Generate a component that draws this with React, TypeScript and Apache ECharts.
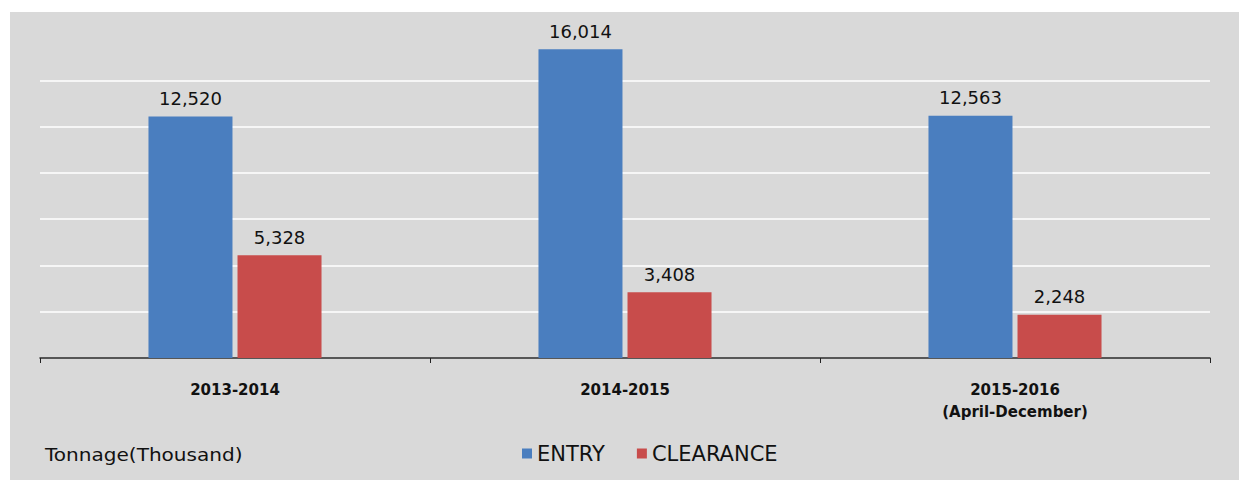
import React, { useEffect, useRef } from "react";
import * as echarts from "echarts";

const categories = ["2013-2014", "2014-2015", "2015-2016\n(April-December)"];
const entryValues = [12520, 16014, 12563];
const clearanceValues = [5328, 3408, 2248];
const seriesNames = ["ENTRY", "CLEARANCE"];
const unitLabel = "Tonnage(Thousand)";

const FONT = "'DejaVu Sans', 'Liberation Sans', Arial, sans-serif";

export default function App() {
  const ref = useRef<HTMLDivElement>(null);
  useEffect(() => {
    if (!ref.current) return;
    const chart = echarts.init(ref.current, undefined, { renderer: "svg" });
    const labelCfg = {
      show: true,
      position: "top",
      distance: 9,
      fontSize: 18,
      fontFamily: FONT,
      color: "#111",
      formatter: (p: any) => Number(p.value).toLocaleString("en-US"),
    };
    chart.setOption({
      animation: false,
      backgroundColor: "transparent",
      textStyle: { fontFamily: FONT },
      grid: { left: 40, right: 29, top: 34, bottom: 122 },
      legend: {
        data: seriesNames,
        left: 517,
        top: 438,
        icon: "rect",
        itemWidth: 10,
        itemHeight: 10,
        itemGap: 32,
        textStyle: { fontSize: 21, color: "#111", fontFamily: FONT },
      },
      graphic: [
        {
          type: "text",
          left: 45,
          top: 447,
          scaleX: 1.18,
          style: { text: unitLabel, fontSize: 17, fill: "#111", fontFamily: FONT },
        },
      ],
      xAxis: {
        type: "category",
        data: categories,
        axisLine: { show: true, lineStyle: { color: "#222", width: 1.5 } },
        axisTick: { show: true, length: 5, lineStyle: { color: "#222" } },
        axisLabel: {
          margin: 21,
          fontSize: 15,
          fontWeight: "bold",
          lineHeight: 22,
          color: "#111",
          fontFamily: FONT,
        },
      },
      yAxis: {
        type: "value",
        min: 0,
        max: 16800,
        interval: 2400,
        axisLabel: { show: false },
        axisLine: { show: false },
        axisTick: { show: false },
        splitLine: {
          show: true,
          lineStyle: {
            width: 1.5,
            color: ["#ffffff", "#ffffff", "#ffffff", "#ffffff", "#ffffff", "#ffffff", "#ffffff", "rgba(0,0,0,0)"],
          },
        },
      },
      series: [
        {
          name: seriesNames[0],
          type: "bar",
          data: entryValues,
          barWidth: 84,
          barGap: "6%",
          itemStyle: { color: "#4a7ebf" },
          label: labelCfg,
        },
        {
          name: seriesNames[1],
          type: "bar",
          data: clearanceValues,
          barWidth: 84,
          barGap: "6%",
          itemStyle: { color: "#c84c4b" },
          label: labelCfg,
        },
      ],
    });
    return () => chart.dispose();
  }, []);

  return (
    <div style={{ position: "absolute", left: 0, top: 0, width: 1239, height: 480, background: "#ffffff" }}>
      <div style={{ position: "absolute", left: 10, top: 12, width: 1229, height: 468, background: "#d9d9d9" }} />
      <div ref={ref} style={{ position: "absolute", left: 0, top: 0, width: 1239, height: 480 }} />
    </div>
  );
}
